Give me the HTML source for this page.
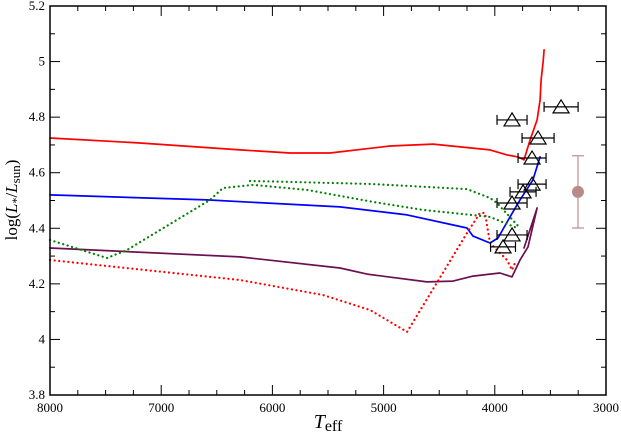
<!DOCTYPE html>
<html><head><meta charset="utf-8"><style>
body{margin:0;background:#fff}
svg text{font-family:"Liberation Serif",serif;fill:#000}
</style></head><body>
<svg id="chart" width="621" height="435" xmlns="http://www.w3.org/2000/svg">
<g id="grid"></g>
<g id="series"></g>
<g id="marks"></g>
<rect x="50" y="6" width="556" height="389" fill="none" stroke="#000" stroke-width="1.5"/>
<text x="328" y="428" font-size="20" text-anchor="middle" font-style="italic">T<tspan font-style="normal" font-size="16" dy="3">eff</tspan></text>
<text transform="translate(17,200) rotate(-90)" font-size="17" text-anchor="middle">log(<tspan font-style="italic">L</tspan><tspan font-size="12" dy="3">*</tspan><tspan dy="-3">/</tspan><tspan font-style="italic">L</tspan><tspan font-size="13" dy="3">sun</tspan><tspan dy="-3">)</tspan></text>
</svg>
<script>
const xTicks=[8000,7000,6000,5000,4000,3000];
const yTicks=[3.8,4,4.2,4.4,4.6,4.8,5,5.2];
const redSolidT=[8000,7191,6291,5842,5482,4942,4556,4043,3890,3791,3737,3683,3620,3593,3584,3566,3557];
const redSolidL=[4.725,4.707,4.682,4.671,4.671,4.696,4.703,4.682,4.664,4.657,4.646,4.718,4.790,4.862,4.934,4.998,5.042];
const blueT=[8000,6588,5392,4789,4250,4196,4043,3971,3863,3773,3657,3593];
const blueL=[4.520,4.502,4.477,4.448,4.401,4.372,4.347,4.365,4.441,4.502,4.574,4.657];
const purpleT=[8000,6291,5392,5149,4610,4376,4196,4043,3953,3845,3773,3701,3620,3737];
const purpleL=[4.329,4.297,4.257,4.235,4.207,4.210,4.228,4.235,4.239,4.225,4.286,4.333,4.473,4.329];
const greenAT=[8000,7487,7308,6561,6444,6174,5689,5095,4646,4043,3800];
const greenAL=[4.358,4.293,4.322,4.502,4.545,4.556,4.538,4.495,4.466,4.441,4.401];
const greenBT=[6201,5842,5095,4250,4043,3980,3773];
const greenBL=[4.570,4.567,4.559,4.541,4.509,4.491,4.401];
const redDotT=[8000,6291,5545,5122,4789,4250,4133,4088,4043,3890,3845,3818];
const redDotL=[4.286,4.214,4.160,4.106,4.027,4.383,4.455,4.455,4.347,4.286,4.250,4.275];
const obsT=[3845,3404,3611,3665,3665,3746,3845,3845,3926];
const obsL=[4.790,4.837,4.725,4.653,4.559,4.531,4.491,4.376,4.333];
const obsErrT=[135,153,144,126,126,117,135,135,112];
const typT=[3252];const typL=[4.531];const typErrL=[0.13];
const X=t=>50+(8000-t)/5000*556;
const Y=l=>395-(l-3.8)/1.4*389;
const NS="http://www.w3.org/2000/svg";
function mk(tag,parent,attrs){const e=document.createElementNS(NS,tag);for(const k in attrs)e.setAttribute(k,attrs[k]);document.getElementById(parent).appendChild(e);return e;}
for(let t=3000;t<=8000;t+=250){const maj=t%1000===0;
 const e=mk('line','grid',{x1:X(t),x2:X(t),y1:395,y2:395-(maj?10:5),stroke:'#000'});
 
 const e2=mk('line','grid',{x1:X(t),x2:X(t),y1:6,y2:6+(maj?10:5),stroke:'#000'});
 }
for(let i=0;i<=14;i++){const l=3.8+i*0.1;const maj=i%2===0;
 const e=mk('line','grid',{x1:50,x2:50+(maj?10:5),y1:Y(l),y2:Y(l),stroke:'#000'});
 
 const e2=mk('line','grid',{x1:606,x2:606-(maj?10:5),y1:Y(l),y2:Y(l),stroke:'#000'});
 }
xTicks.forEach(t=>{const e=mk('text','grid',{x:X(t),y:412,'font-size':13,'text-anchor':'middle'});e.textContent=t;
 });
yTicks.forEach(l=>{const e=mk('text','grid',{x:45,y:Y(l)+4,'font-size':13,'text-anchor':'end'});e.textContent=String(l);
 });
function line(T,L,color,dash,name){const d=T.map((t,i)=>(i?'L':'M')+X(t).toFixed(1)+','+Y(L[i]).toFixed(1)).join('');
 const e=mk('path','series',{d:d,fill:'none',stroke:color,'stroke-width':dash?2.2:1.7,'stroke-dasharray':dash?'0.1,4.5':'none','stroke-linecap':'round','stroke-linejoin':'round'});
 }
line(redSolidT,redSolidL,'#ff0000',false,'red-solid-track');
line(blueT,blueL,'#0000ff',false,'blue-track');
line(purpleT,purpleL,'#6b1050',false,'purple-track');
line(greenAT,greenAL,'#008000',true,'green-dotted-track-a');
line(greenBT,greenBL,'#008000',true,'green-dotted-track-b');
line(redDotT,redDotL,'#ff0000',true,'red-dotted-track');
obsT.forEach((t,i)=>{const cx=X(t),cy=Y(obsL[i]);const x1=X(t+obsErrT[i]),x2=X(t-obsErrT[i]);
 const g=mk('g','marks',{});
 
 const p=document.createElementNS(NS,'path');p.setAttribute('d',`M${x1},${cy}H${x2}M${x1},${cy-5}V${cy+5}M${x2},${cy-5}V${cy+5}M${cx-8},${cy+6}L${cx},${cy-7}L${cx+8},${cy+6}Z`);
 p.setAttribute('fill','none');p.setAttribute('stroke','#000');p.setAttribute('stroke-width','1.2');g.appendChild(p);});
typT.forEach((t,i)=>{const cx=X(t),y1=Y(typL[i]+typErrL[i]),y2=Y(typL[i]-typErrL[i]);
 const e=mk('path','marks',{d:`M${cx},${y1}V${y2}M${cx-6},${y1}H${cx+6}M${cx-6},${y2}H${cx+6}`,stroke:'#c09090','stroke-width':1.2,fill:'none'});
 
 const c=mk('circle','marks',{cx:cx,cy:Y(typL[i]),r:6,fill:'#b88a8a'});
 });
</script>
</body></html>
